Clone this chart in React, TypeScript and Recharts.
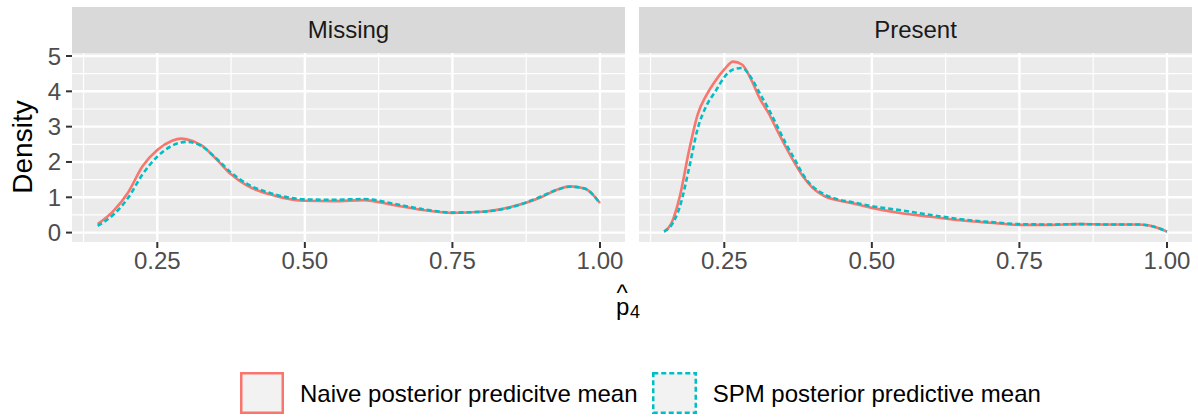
import { CartesianGrid, Line, LineChart, XAxis, YAxis } from 'recharts';

// density of p-hat_4
const MISSING_X = [0.149, 0.175, 0.2, 0.225, 0.25, 0.275, 0.29, 0.3, 0.325, 0.35, 0.375, 0.4, 0.45, 0.5, 0.55, 0.6, 0.65, 0.7, 0.75, 0.8, 0.85, 0.9, 0.925, 0.95, 0.975, 1.0];
const MISSING_NAIVE = [0.24, 0.6, 1.12, 1.88, 2.34, 2.6, 2.66, 2.64, 2.47, 2.08, 1.65, 1.35, 1.04, 0.9, 0.89, 0.92, 0.78, 0.64, 0.56, 0.59, 0.73, 1.0, 1.2, 1.31, 1.24, 0.84];
const MISSING_SPM = [0.19, 0.5, 0.97, 1.65, 2.15, 2.46, 2.55, 2.57, 2.45, 2.1, 1.7, 1.4, 1.08, 0.94, 0.93, 0.95, 0.82, 0.66, 0.57, 0.59, 0.72, 1.02, 1.2, 1.3, 1.24, 0.82];

const PRESENT_X = [0.148, 0.16, 0.175, 0.19, 0.205, 0.22, 0.235, 0.25, 0.265, 0.28, 0.295, 0.31, 0.325, 0.34, 0.355, 0.37, 0.385, 0.4, 0.42, 0.44, 0.47, 0.5, 0.55, 0.6, 0.65, 0.7, 0.75, 0.8, 0.85, 0.9, 0.95, 0.97, 1.0];
const PRESENT_NAIVE = [0.03, 0.25, 1.05, 2.3, 3.35, 3.9, 4.3, 4.62, 4.84, 4.76, 4.35, 3.8, 3.38, 2.88, 2.4, 1.95, 1.55, 1.26, 1.03, 0.92, 0.82, 0.7, 0.55, 0.45, 0.35, 0.28, 0.22, 0.22, 0.24, 0.23, 0.23, 0.2, 0.03];
const PRESENT_SPM = [0.03, 0.2, 0.75, 1.8, 2.95, 3.6, 4.0, 4.4, 4.62, 4.66, 4.4, 3.95, 3.5, 3.0, 2.5, 2.05, 1.6, 1.3, 1.08, 0.95, 0.85, 0.75, 0.63, 0.5, 0.38, 0.3, 0.24, 0.23, 0.24, 0.23, 0.23, 0.2, 0.03];

const PANELS = ['Missing', 'Present'];
const SERIES = ['Naive posterior predicitve mean', 'SPM posterior predictive mean'];

const X_TICKS = [0.25, 0.5, 0.75, 1.0];
const X_MINOR = [0.125, 0.375, 0.625, 0.875];
const Y_TICKS = [0, 1, 2, 3, 4, 5];
const Y_MINOR = [0.5, 1.5, 2.5, 3.5, 4.5];

const RED = '#F8766D';
const TEAL = '#00BFC4';
const FONT = '"Liberation Sans", Arial, Helvetica, sans-serif';

const X_DOMAIN = [0.1055, 1.0424];
const Y_DOMAIN = [-0.266, 5.085];

const PANEL_W = 553;
const PANEL_H = 189;
const PANEL_TOP = 53;
const AXIS_W = 72;
const PAD_TOP = 14;

function rows(xs: number[], naive: number[], spm: number[]) {
  return xs.map((x, i) => ({ x, naive: naive[i], spm: spm[i] }));
}

const PANEL_DATA = [
  rows(MISSING_X, MISSING_NAIVE, MISSING_SPM),
  rows(PRESENT_X, PRESENT_NAIVE, PRESENT_SPM),
];

const tickStyle = { fill: '#4D4D4D', fontSize: 24, fontFamily: FONT };

function Panel({ data, showY }: { data: any[]; showY: boolean }) {
  return (
    <LineChart
      width={PANEL_W + (showY ? AXIS_W : 0)}
      height={PANEL_H + 40 + PAD_TOP}
      data={data}
      margin={{ top: PAD_TOP, right: 0, bottom: 0, left: 0 }}
    >
      <CartesianGrid
        fill="#EBEBEB"
        stroke="#FFFFFF"
        strokeWidth={1.2}
        verticalValues={X_MINOR}
        horizontalValues={Y_MINOR}
      />
      <CartesianGrid
        fill="none"
        stroke="#FFFFFF"
        strokeWidth={2.4}
        verticalValues={X_TICKS}
        horizontalValues={Y_TICKS}
      />
      <XAxis
        type="number"
        dataKey="x"
        domain={X_DOMAIN}
        ticks={X_TICKS}
        allowDataOverflow
        tickFormatter={(v: number) => v.toFixed(2)}
        axisLine={false}
        tickSize={6}
        tickMargin={4}
        tickLine={{ stroke: '#333333', strokeWidth: 2 }}
        tick={tickStyle}
        height={40}
        interval={0}
      />
      <YAxis
        type="number"
        domain={Y_DOMAIN}
        ticks={Y_TICKS}
        allowDataOverflow
        hide={!showY}
        width={AXIS_W}
        axisLine={false}
        tickSize={6}
        tickMargin={5}
        tickLine={{ stroke: '#333333', strokeWidth: 2 }}
        tick={tickStyle}
        interval={0}
      />
      <Line
        dataKey="naive"
        type="monotone"
        stroke={RED}
        strokeWidth={2.6}
        dot={false}
        isAnimationActive={false}
      />
      <Line
        dataKey="spm"
        type="monotone"
        stroke={TEAL}
        strokeWidth={2.6}
        strokeDasharray="5 3"
        dot={false}
        isAnimationActive={false}
      />
    </LineChart>
  );
}

export default function App() {
  const panelLeft = [AXIS_W, AXIS_W + PANEL_W + 14];
  return (
    <div
      style={{
        position: 'absolute',
        left: 0,
        top: 0,
        width: 1198,
        height: 417,
        background: '#FFFFFF',
        fontFamily: FONT,
        overflow: 'hidden',
      }}
    >
      {PANEL_DATA.map((data, i) => (
        <div
          key={PANELS[i]}
          style={{
            position: 'absolute',
            left: i === 0 ? 0 : panelLeft[1],
            top: PANEL_TOP - PAD_TOP,
          }}
        >
          <Panel data={data} showY={i === 0} />
        </div>
      ))}
      {PANELS.map((name, i) => (
        <div
          key={name}
          style={{
            position: 'absolute',
            left: panelLeft[i],
            top: 7,
            width: PANEL_W,
            height: PANEL_TOP - 7,
            background: '#D9D9D9',
            color: '#1A1A1A',
            fontSize: 24,
            lineHeight: `${PANEL_TOP - 7}px`,
            textAlign: 'center',
          }}
        >
          {name}
        </div>
      ))}
      <svg
        width={1198}
        height={417}
        style={{ position: 'absolute', left: 0, top: 0, pointerEvents: 'none' }}
      >
        <text
          x={0}
          y={0}
          transform="translate(32,147) rotate(-90)"
          textAnchor="middle"
          fontSize={28}
          fontFamily={FONT}
          fill="#000000"
        >
          Density
        </text>
        {/* p-hat with subscript 4, built from one text element */}
        <text fontFamily={FONT} fill="#000000">
          <tspan x={616.5} y={301} fontSize={24}>^</tspan>
          <tspan x={616} y={314.5} fontSize={24}>p</tspan>
          <tspan x={630} y={317.5} fontSize={18}>4</tspan>
        </text>
        <rect x={241.25} y={373.25} width={41.5} height={39.5} fill="#F2F2F2" stroke={RED} strokeWidth={2.5} />
        <text x={300} y={401.5} fontSize={24} fontFamily={FONT} fill="#000000">
          {SERIES[0]}
        </text>
        <rect
          x={653.25}
          y={373.25}
          width={42.5}
          height={39.5}
          fill="#F2F2F2"
          stroke={TEAL}
          strokeWidth={2.5}
          strokeDasharray="5 3"
        />
        <text x={712.7} y={401.5} fontSize={24} fontFamily={FONT} fill="#000000">
          {SERIES[1]}
        </text>
      </svg>
    </div>
  );
}
